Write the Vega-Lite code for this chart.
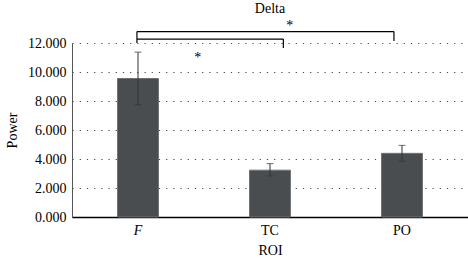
{
  "$schema": "https://vega.github.io/schema/vega-lite/v6.json",
  "width": 396,
  "height": 174,
  "autosize": "none",
  "padding": {"left": 72, "top": 43, "right": 0, "bottom": 41},
  "background": "white",
  "config": {
    "view": {"stroke": null},
    "font": "Liberation Serif",
    "axisY": {
      "titleFont": "Liberation Serif",
      "titleFontSize": 14,
      "titleFontWeight": "normal",
      "titleColor": "#000000",
      "titlePadding": 8,
      "labelOverlap": false,
      "labelFont": "Liberation Serif",
      "labelFontSize": 14,
      "labelColor": "#000000",
      "labelPadding": 6,
      "ticks": false,
      "domainColor": "#555555",
      "domainWidth": 1,
      "grid": true,
      "gridColor": "#444444",
      "gridDash": [1.2, 6],
      "gridWidth": 1
    }
  },
  "title": {
    "text": "Delta",
    "font": "Liberation Serif",
    "fontSize": 14,
    "fontWeight": "normal",
    "color": "#000000",
    "anchor": "middle",
    "frame": "group",
    "offset": 3
  },
  "datasets": {
    "bars": [
      {"ROI": "F", "value": 9.55, "lo": 7.74, "hi": 11.37},
      {"ROI": "TC", "value": 3.23, "lo": 2.83, "hi": 3.68},
      {"ROI": "PO", "value": 4.39, "lo": 3.84, "hi": 4.94}
    ],
    "brackets": [
      {"x": 0.492, "x2": 2.439, "y": 12.79, "y2": 12.79},
      {"x": 0.492, "x2": 0.492, "y": 12.79, "y2": 12.0},
      {"x": 2.439, "x2": 2.439, "y": 12.79, "y2": 12.14},
      {"x": 0.492, "x2": 1.601, "y": 12.27, "y2": 12.27},
      {"x": 1.601, "x2": 1.601, "y": 12.27, "y2": 11.65}
    ],
    "stars": [
      {"x": 1.65, "y": 12.9, "label": "*"},
      {"x": 0.952, "y": 10.69, "label": "*"}
    ]
  },
  "resolve": {"scale": {"x": "independent"}},
  "layer": [
    {
      "data": {"name": "bars"},
      "encoding": {
        "x": {
          "field": "ROI",
          "type": "nominal",
          "sort": ["F", "TC", "PO"],
          "scale": {"paddingInner": 0.69, "paddingOuter": 0.345},
          "axis": {
            "title": "ROI",
            "titleFont": "Liberation Serif",
            "titleFontSize": 14,
            "titleFontWeight": "normal",
            "titleColor": "#000000",
            "titlePadding": 6,
            "labelFont": "Liberation Serif",
            "labelFontSize": 14,
            "labelColor": "#000000",
            "labelAngle": 0,
            "labelPadding": 6,
            "labelFontStyle": {"condition": {"test": "datum.value === 'F'", "value": "italic"}, "value": "normal"},
            "ticks": false,
            "domainColor": "#000000",
            "domainWidth": 1.5
          }
        }
      },
      "layer": [
        {
          "mark": {"type": "bar", "color": "#4a4d50", "stroke": "#6f7275", "strokeWidth": 1},
          "encoding": {
            "y": {
              "field": "value",
              "type": "quantitative",
              "scale": {"domain": [0, 12], "nice": false},
              "axis": {"title": "Power", "values": [0, 2, 4, 6, 8, 10, 12], "format": ".3f"}
            }
          }
        },
        {
          "mark": {"type": "rule", "color": "#333333", "strokeWidth": 1},
          "encoding": {
            "y": {"field": "lo", "type": "quantitative", "axis": {"title": "Power", "values": [0, 2, 4, 6, 8, 10, 12], "format": ".3f"}},
            "y2": {"field": "hi"}
          }
        },
        {
          "mark": {"type": "tick", "color": "#333333", "thickness": 1, "size": 7},
          "encoding": {"y": {"field": "lo", "type": "quantitative", "axis": {"title": "Power", "values": [0, 2, 4, 6, 8, 10, 12], "format": ".3f"}}}
        },
        {
          "mark": {"type": "tick", "color": "#333333", "thickness": 1, "size": 7},
          "encoding": {"y": {"field": "hi", "type": "quantitative", "axis": {"title": "Power", "values": [0, 2, 4, 6, 8, 10, 12], "format": ".3f"}}}
        }
      ]
    },
    {
      "layer": [
        {
          "data": {"name": "brackets"},
          "mark": {"type": "rule", "color": "#000000", "strokeWidth": 1.2},
          "encoding": {
            "x": {"field": "x", "type": "quantitative", "scale": {"domain": [0, 3], "nice": false, "zero": false}, "axis": null},
            "x2": {"field": "x2"},
            "y": {"field": "y", "type": "quantitative", "axis": {"title": "Power", "values": [0, 2, 4, 6, 8, 10, 12], "format": ".3f"}},
            "y2": {"field": "y2"}
          }
        },
        {
          "data": {"name": "stars"},
          "mark": {"type": "text", "font": "Liberation Serif", "fontSize": 14, "color": "#000000", "fill": "#000000", "baseline": "alphabetic", "align": "center"},
          "encoding": {
            "x": {"field": "x", "type": "quantitative", "scale": {"domain": [0, 3], "nice": false, "zero": false}, "axis": null},
            "y": {"field": "y", "type": "quantitative", "axis": {"title": "Power", "values": [0, 2, 4, 6, 8, 10, 12], "format": ".3f"}},
            "text": {"field": "label"}
          }
        }
      ]
    }
  ]
}
